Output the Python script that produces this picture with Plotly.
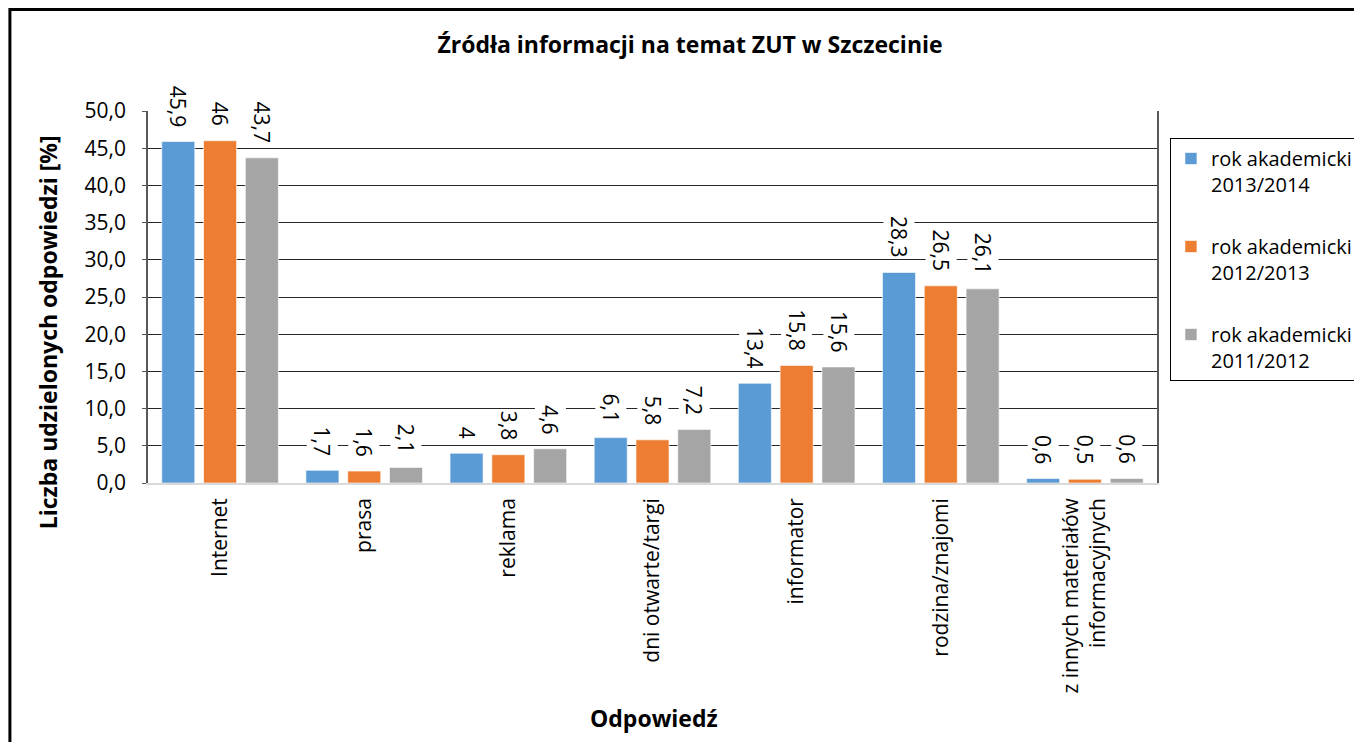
import plotly.graph_objects as go

# categories and series
categories = ["Internet", "prasa", "reklama", "dni otwarte/targi", "informator",
              "rodzina/znajomi", "z innych materiałów<br>informacyjnych"]
series_names = ["rok akademicki<br>2013/2014", "rok akademicki<br>2012/2013",
                "rok akademicki<br>2011/2012"]
v_2013_2014 = [45.9, 1.7, 4.0, 6.1, 13.4, 28.3, 0.6]
v_2012_2013 = [46.0, 1.6, 3.8, 5.8, 15.8, 26.5, 0.5]
v_2011_2012 = [43.7, 2.1, 4.6, 7.2, 15.6, 26.1, 0.6]
series_values = [v_2013_2014, v_2012_2013, v_2011_2012]
colors = ["#5B9BD5", "#ED7D31", "#A5A5A5"]

FONT = "Open Sans, Lato, sans-serif"
BARGAP = 0.13
BARGROUPGAP = 0.21

# the page body has an 8px margin, so figure px = page px - 8
PLOT_L, PLOT_R, PLOT_T, PLOT_B = 148, 1160, 111, 483   # page pixels of the plot area
W, H = 1362, 742
pw = PLOT_R - PLOT_L
ph = PLOT_B - PLOT_T


def fmt(v):
    # polish style: comma decimal, drop ",0"
    s = ("%.1f" % v).rstrip("0").rstrip(".")
    return s.replace(".", ",")


def px_x(p):
    return (p - PLOT_L) / pw


def px_y(p):
    return (PLOT_B - p) / ph


fig = go.Figure()
for i, (name, vals) in enumerate(zip(series_names, series_values)):
    fig.add_trace(go.Bar(
        x=categories, y=vals, name=name, legendgroup=str(i),
        marker=dict(color=colors[i], line=dict(color="rgba(255,255,255,0.6)", width=1)),
    ))

# data labels, rotated, with white background that cuts the gridlines
slot = (1 - BARGAP) / len(series_values)
annotations = []
for i, vals in enumerate(series_values):
    off = -(1 - BARGAP) / 2 + slot * (i + 0.5)
    for k, v in enumerate(vals):
        annotations.append(dict(
            x=k + off, y=v, xref="x", yref="y", text=fmt(v), showarrow=False,
            textangle=90, yanchor="bottom", xanchor="center", yshift=13,
            bgcolor="white", font=dict(size=21, color="black", family=FONT),
        ))

# axis titles placed where the reference has them
annotations.append(dict(
    text="<b>Liczba udzielonych odpowiedzi [%]</b>", textangle=-90, showarrow=False,
    xref="paper", yref="paper", x=px_x(48), y=px_y(332), xanchor="center", yanchor="middle",
    font=dict(size=23, family=FONT, color="black")))
annotations.append(dict(
    text="<b>Odpowiedź</b>", showarrow=False,
    xref="paper", yref="paper", x=px_x(656), y=px_y(718), xanchor="center", yanchor="middle",
    font=dict(size=23, family=FONT, color="black")))

fig.update_layout(
    width=W, height=H,
    margin=dict(l=PLOT_L - 8, r=W + 8 - PLOT_R, t=PLOT_T - 8, b=H + 8 - PLOT_B),
    paper_bgcolor="white", plot_bgcolor="white",
    font=dict(family=FONT, color="black"),
    bargap=BARGAP, bargroupgap=BARGROUPGAP,
    separators=", ",
    title=dict(text="<b>Źródła informacji na temat ZUT w Szczecinie</b>",
               x=(690 - 8) / W, xref="container", xanchor="center",
               y=1 - (45 - 8) / H, yref="container", yanchor="middle",
               font=dict(size=23, family=FONT, color="black")),
    legend=dict(x=px_x(1173), y=px_y(138), xanchor="left", yanchor="top",
                bordercolor="black", borderwidth=1, bgcolor="white",
                font=dict(size=20, family=FONT, color="black"),
                valign="top", tracegroupgap=33, traceorder="grouped"),
    annotations=annotations,
    showlegend=True,
)

fig.update_xaxes(
    type="category", tickangle=-90, showgrid=False,
    showline=True, linecolor="#D9D9D9", linewidth=1.5,
    ticklabelstandoff=5,
    tickfont=dict(size=21, family=FONT, color="black"),
)
fig.update_yaxes(
    range=[0, 50], dtick=5, tickformat=".1f",
    showgrid=True, gridcolor="#262626", gridwidth=1,
    showline=True, linecolor="#595959", linewidth=1.5, mirror=True,
    ticks="outside", ticklen=4, tickcolor="#595959",
    ticklabelstandoff=12,
    tickfont=dict(size=21, family=FONT, color="black"),
)

# outer chart border (partially cropped in the reference)
fig.add_shape(type="rect", xref="paper", yref="paper",
              x0=px_x(9.5), x1=1.4, y0=-1.0, y1=px_y(9.5),
              line=dict(color="black", width=3), fillcolor="rgba(0,0,0,0)", layer="above")

fig.write_html("out.html")
